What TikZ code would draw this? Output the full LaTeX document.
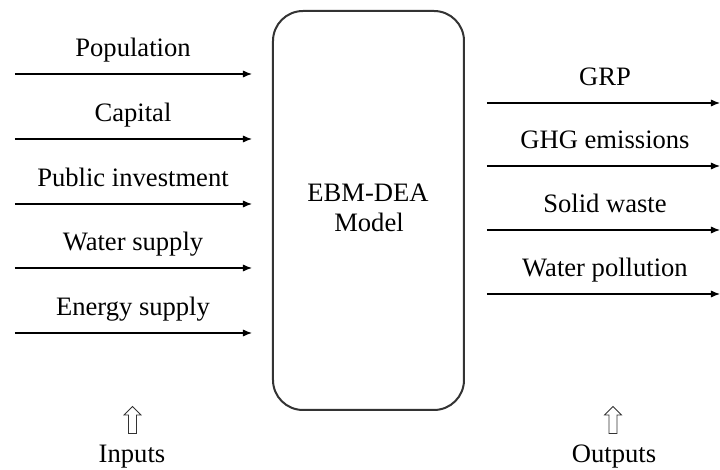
\documentclass[tikz,border=0pt]{standalone}
\usepackage{fontspec}
\setmainfont{Liberation Serif}
\usetikzlibrary{arrows.meta,shapes.arrows}
\begin{document}
\begin{tikzpicture}[x=0.5pt,y=-0.5pt,
  lbl/.style={font=\fontsize{13.3pt}{15pt}\selectfont, inner sep=0pt, anchor=base},
  flow/.style={line width=0.6pt, -{Latex[length=4.5pt,width=3.6pt]}},
  model/.style={draw=black!80, line width=1pt, rounded corners=15pt, minimum width=95.5pt, minimum height=199.5pt, inner sep=0pt},
  uparrow/.style={draw=black!80, line width=0.4pt, shape=single arrow, rotate=90, minimum height=13.5pt, minimum width=8.5pt, single arrow head extend=2pt, single arrow tip angle=90, inner sep=1.6pt}
]
\useasboundingbox (0,0) rectangle (720,470);
\node[model] (box) at (368.5,210.5) {};
\node[lbl] (m1) at (368,202) {EBM-DEA};
\node[lbl] (m2) at (369,232) {Model};
% inputs
\foreach \n/\t/\y in {i1/Population/74, i2/Capital/139, i3/Public investment/204, i4/Water supply/268, i5/Energy supply/333}{
  \node[lbl] (\n) at (133,\y-17) {\t};
  \coordinate (\n s) at (15,\y);
  \coordinate (\n e) at (252,\y);
  \draw[flow] (\n s) -- (\n e);
}
% outputs
\foreach \n/\t/\y in {o1/GRP/103, o2/GHG emissions/166, o3/Solid waste/230, o4/Water pollution/294}{
  \node[lbl] (\n) at (605,\y-17) {\t};
  \coordinate (\n s) at (487,\y);
  \coordinate (\n e) at (720,\y);
  \draw[flow] (\n s) -- (\n e);
}
\node[uparrow] (ua) at (132.5,422) {};
\node[uparrow] (ub) at (613,422) {};
\node[lbl] (inp) at (132,463) {Inputs};
\node[lbl] (outp) at (614,463) {Outputs};
\end{tikzpicture}
\end{document}
